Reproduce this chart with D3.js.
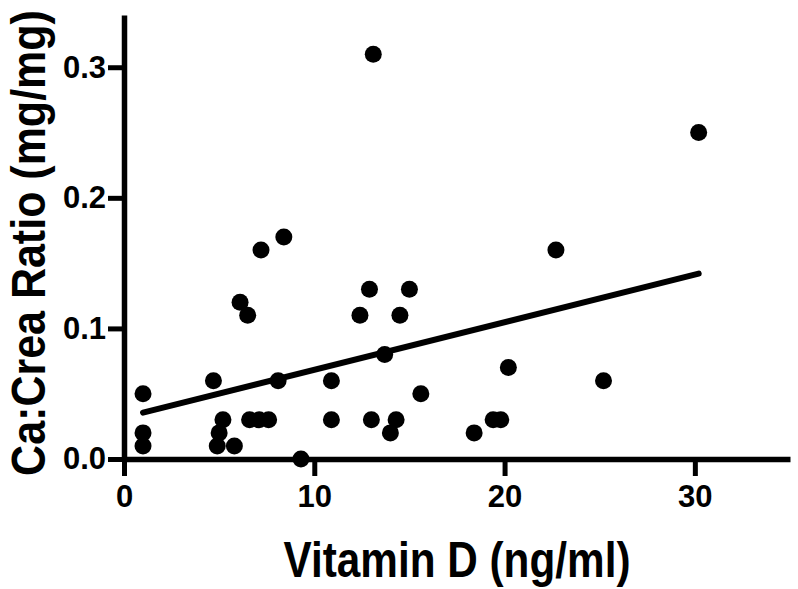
<!DOCTYPE html>
<html>
<head>
<meta charset="utf-8">
<script src="https://cdn.jsdelivr.net/npm/d3@7"></script>
<style>
  html, body { margin: 0; padding: 0; background: #fff; }
  svg { display: block; }
  text { font-family: "Liberation Sans", Arial, Helvetica, sans-serif; font-weight: bold; fill: #000; }
</style>
</head>
<body>
<svg id="chart" width="798" height="589"></svg>
<script>
// Data
const vitaminD = [1.0, 1.0, 1.0, 4.7, 5.2, 5.0, 4.9, 5.8, 6.1, 6.5, 6.6, 7.1, 7.6, 7.2, 8.4, 8.1, 9.3,
                  10.9, 10.9, 12.4, 12.9, 13.0, 13.1, 13.7, 14.0, 14.3, 14.5, 15.0, 15.6,
                  18.4, 19.4, 19.8, 20.2, 22.7, 25.2, 30.2];
const caCreaRatio = [0.05, 0.02, 0.01, 0.06, 0.03, 0.02, 0.01, 0.01, 0.12, 0.11, 0.03, 0.03, 0.03, 0.16, 0.17, 0.06, 0.00,
                     0.06, 0.03, 0.11, 0.13, 0.03, 0.31, 0.08, 0.02, 0.03, 0.11, 0.13, 0.05,
                     0.02, 0.03, 0.03, 0.07, 0.16, 0.06, 0.25];
const regressionSlope = 0.003645;
const regressionIntercept = 0.0319;
const xTicks = [0, 10, 20, 30];
const yTicks = [0.0, 0.1, 0.2, 0.3];
const xDomain = [0, 35];
const yDomain = [0, 0.34];
const xTitle = "Vitamin D (ng/ml)";
const yTitle = "Ca:Crea Ratio (mg/mg)";

const svg = d3.select("#chart");
const x = d3.scaleLinear().domain(xDomain).range([124, 790]);
const y = d3.scaleLinear().domain(yDomain).range([459, 15]);

// Axes
const xAxis = d3.axisBottom(x).tickValues(xTicks).tickFormat(d3.format("d"))
  .tickSize(17).tickSizeOuter(0).tickPadding(9);
const yAxis = d3.axisLeft(y).tickValues(yTicks).tickFormat(d3.format(".1f"))
  .tickSize(16).tickSizeOuter(0).tickPadding(2);

const gx = svg.append("g").attr("transform", `translate(0,${y(0)})`).call(xAxis);
const gy = svg.append("g").attr("transform", `translate(${x(0)},0)`).call(yAxis);

[gx, gy].forEach(g => {
  g.select(".domain").attr("stroke", "#000").attr("stroke-width", 5.5);
  g.selectAll(".tick line").attr("stroke", "#000").attr("stroke-width", 5);
  g.selectAll(".tick text").attr("font-size", 31).attr("font-family", null).attr("fill", "#000");
});

// Regression line
const x0 = d3.min(vitaminD), x1 = d3.max(vitaminD);
svg.append("line")
  .attr("x1", x(x0)).attr("y1", y(regressionIntercept + regressionSlope * x0))
  .attr("x2", x(x1)).attr("y2", y(regressionIntercept + regressionSlope * x1))
  .attr("stroke", "#000").attr("stroke-width", 6).attr("stroke-linecap", "round");

// Points
svg.append("g").selectAll("circle")
  .data(vitaminD.map((v, i) => [v, caCreaRatio[i]]))
  .join("circle")
  .attr("cx", d => x(d[0]))
  .attr("cy", d => y(d[1]))
  .attr("r", 8.5)
  .attr("fill", "#000");

// Axis titles
svg.append("text")
  .attr("transform", `translate(${(x.range()[0] + x.range()[1]) / 2},577) scale(1,1.18)`)
  .attr("text-anchor", "middle")
  .attr("font-size", 42.3)
  .text(xTitle);

svg.append("text")
  .attr("transform", "translate(45,243) rotate(-90) scale(1,1.1)")
  .attr("text-anchor", "middle")
  .attr("font-size", 43)
  .text(yTitle);
</script>
</body>
</html>
